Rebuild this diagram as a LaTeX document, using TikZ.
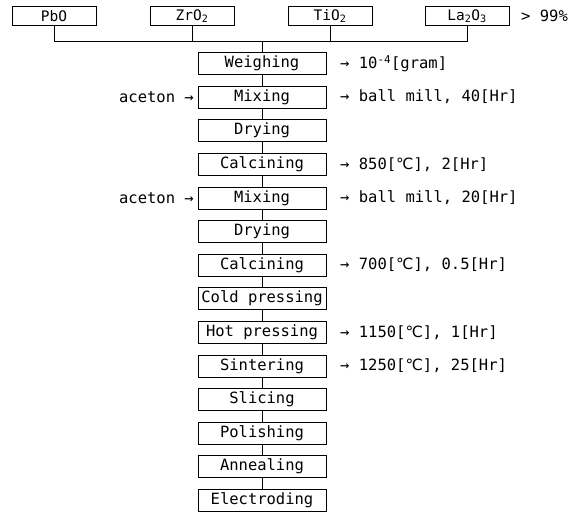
\documentclass[tikz,border=0pt]{standalone}
\usepackage{fontspec}
\setmonofont{DejaVu Sans Mono}
\newfontfamily\symfont{DejaVu Sans}
\usepackage{tikz}
\usetikzlibrary{positioning}
\newcommand{\dgc}{{\symfont ℃}}
\tikzset{
  raw/.style={draw,line width=0.8pt,minimum width=84pt,minimum height=19pt,
              inner sep=1pt,font=\ttfamily\fontsize{14.5}{14.5}\selectfont},
  stage/.style={draw,line width=0.8pt,minimum width=128pt,minimum height=22pt,
                inner sep=2pt,font=\ttfamily\fontsize{15.5}{15.5}\selectfont},
  note/.style={font=\ttfamily\fontsize{15.5}{15.5}\selectfont,inner sep=0pt},
  link/.style={line width=0.7pt},
}

\begin{document}
\begin{tikzpicture}[x=1pt,y=-1pt]
  \useasboundingbox (0,0) rectangle (588,514);

  % raw powders, purity
  \node[raw] (pbo) at (54,16) {PbO};
  \node[raw] (zro) at (192,16) {ZrO\textsubscript{2}};
  \node[raw] (tio) at (330,16) {TiO\textsubscript{2}};
  \node[raw] (lao) at (467,16) {La\textsubscript{2}O\textsubscript{3}};
  \node[note,anchor=west] (purity) at (521,16) {> 99\%};
  \coordinate (bus) at (262,41);
  \draw[link] (pbo.south) |- (bus) (zro.south) |- (bus)
              (tio.south) |- (bus) (lao.south) |- (bus);

  % process steps
  \node[stage] (weigh) at (262,63.5) {Weighing};
  \node[stage] (mix1)  at (262,97.1) {Mixing};
  \node[stage] (dry1)  at (262,130.7) {Drying};
  \node[stage] (calc1) at (262,164.3) {Calcining};
  \node[stage] (mix2)  at (262,197.9) {Mixing};
  \node[stage] (dry2)  at (262,231.5) {Drying};
  \node[stage] (calc2) at (262,265.1) {Calcining};
  \node[stage] (cold)  at (262,298.7) {Cold pressing};
  \node[stage] (hot)   at (262,332.3) {Hot pressing};
  \node[stage] (sint)  at (262,365.9) {Sintering};
  \node[stage] (slice) at (262,399.5) {Slicing};
  \node[stage] (polish) at (262,433.1) {Polishing};
  \node[stage] (anneal) at (262,466.7) {Annealing};
  \node[stage] (electr) at (262,500.3) {Electroding};

  \draw[link] (bus) -- (weigh) (weigh) -- (mix1) (mix1) -- (dry1)
    (dry1) -- (calc1) (calc1) -- (mix2) (mix2) -- (dry2) (dry2) -- (calc2)
    (calc2) -- (cold) (cold) -- (hot) (hot) -- (sint) (sint) -- (slice)
    (slice) -- (polish) (polish) -- (anneal) (anneal) -- (electr);

  % conditions
  \node[note,anchor=west] (weighnote) at (340,63.5) {→ 10\textsuperscript{-4}[gram]};
  \node[note,anchor=west] (mix1note) at (340,97.1) {→ ball mill, 40[Hr]};
  \node[note,anchor=west] (calc1note) at (340,164.3) {→ 850[\dgc], 2[Hr]};
  \node[note,anchor=west] (mix2note) at (340,197.9) {→ ball mill, 20[Hr]};
  \node[note,anchor=west] (calc2note) at (340,265.1) {→ 700[\dgc], 0.5[Hr]};
  \node[note,anchor=west] (hotnote) at (340,332.3) {→ 1150[\dgc], 1[Hr]};
  \node[note,anchor=west] (sintnote) at (340,365.9) {→ 1250[\dgc], 25[Hr]};

  % solvent
  \node[note,anchor=east] (aceton1) at (194,97.1) {aceton →};
  \node[note,anchor=east] (aceton2) at (194,197.9) {aceton →};
\end{tikzpicture}
\end{document}
